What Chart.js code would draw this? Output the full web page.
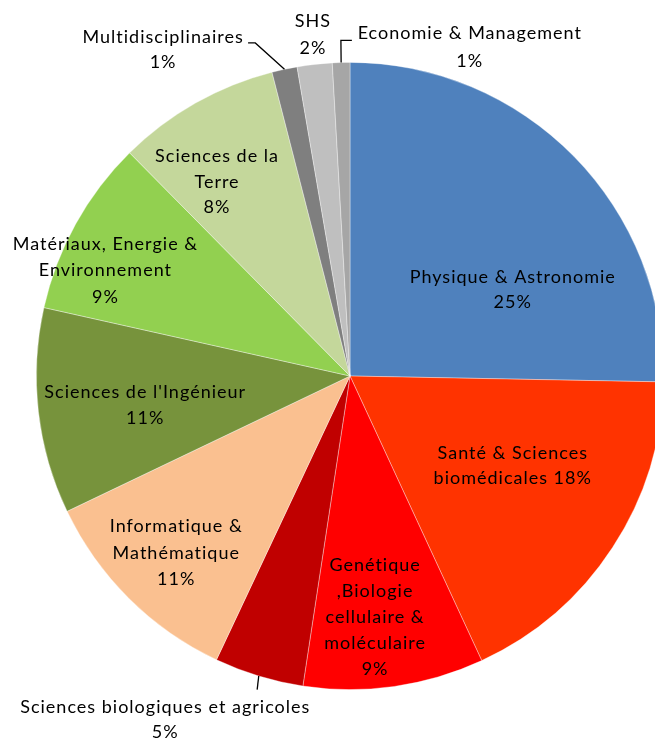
<!DOCTYPE html>
<html>
<head>
<meta charset="utf-8">
<script src="https://cdn.jsdelivr.net/npm/chart.js@4.4.1/dist/chart.umd.min.js"></script>
<style>
  html, body { margin: 0; padding: 0; background: #fff; overflow: hidden; }
  #wrap { width: 700px; height: 740px; }
</style>
</head>
<body>
<div id="wrap"><canvas id="c" width="700" height="740"></canvas></div>
<script>
// ---- data ----
const categories = [
  "Physique & Astronomie",
  "Santé & Sciences biomédicales",
  "Genétique ,Biologie cellulaire & moléculaire",
  "Sciences biologiques et agricoles",
  "Informatique & Mathématique",
  "Sciences de l'Ingénieur",
  "Matériaux, Energie & Environnement",
  "Sciences de la Terre",
  "Multidisciplinaires",
  "SHS",
  "Economie & Management"
];
const shares = [25.3, 17.8, 9.3, 4.6, 10.9, 10.6, 9.1, 8.4, 1.3, 1.8, 0.9];
const colors = ["#4F81BD", "#FF3300", "#FF0000", "#C00000", "#FAC090", "#77933C",
                "#92D050", "#C4D79B", "#7F7F7F", "#BFBFBF", "#A6A6A6"];
// label text lines ({p} = percentage)
const labelLines = [
  ["Physique & Astronomie", "{p}"],
  ["Santé & Sciences", "biomédicales {p}"],
  ["Genétique", ",Biologie", "cellulaire &", "moléculaire", "{p}"],
  ["Sciences biologiques et agricoles", "{p}"],
  ["Informatique &", "Mathématique", "{p}"],
  ["Sciences de l'Ingénieur", "{p}"],
  ["Matériaux, Energie &", "Environnement", "{p}"],
  ["Sciences de la", "Terre", "{p}"],
  ["Multidisciplinaires", "{p}"],
  ["SHS", "{p}"],
  ["Economie & Management", "{p}"]
];

// ---- layout (relative to pie centre, in units of radius) ----
const labelPos = [
  [0.519, -0.275], [0.519, 0.285], [0.080, 0.769], [-0.589, 1.097],
  [-0.554, 0.565], [-0.653, 0.092], [-0.780, -0.336], [-0.424, -0.619],
  [-0.596, -1.040], [-0.118, -1.089], [0.382, -1.048]
];
const lineHeight = [25, 25, 26, 25, 26.5, 26, 26.5, 25.5, 25, 27, 28];
// leader lines: from rim at slice mid-angle through elbow points (relative coords)
const leaders = {
  3: [[-0.296, 1.0]],
  8: [[-0.302, -1.062], [-0.325, -1.062]],
  10: [[-0.029, -1.07], [0.006, -1.07]]
};

const total = shares.reduce((a, b) => a + b, 0);

const labelPlugin = {
  id: 'sliceLabels',
  afterDatasetsDraw(chart) {
    const ctx = chart.ctx;
    const meta = chart.getDatasetMeta(0);
    ctx.save();
    ctx.font = '18px Lato, "Open Sans", sans-serif';
    ctx.fillStyle = '#000';
    ctx.textAlign = 'center';
    ctx.textBaseline = 'middle';
    meta.data.forEach((arc, i) => {
      const cx = arc.x, cy = arc.y, R = arc.outerRadius;
      // leader
      if (leaders[i]) {
        const mid = (arc.startAngle + arc.endAngle) / 2;
        ctx.beginPath();
        ctx.strokeStyle = '#000';
        ctx.lineWidth = 1.3;
        ctx.moveTo(cx + R * Math.cos(mid), cy + R * Math.sin(mid));
        leaders[i].forEach(p => ctx.lineTo(cx + p[0] * R, cy + p[1] * R));
        ctx.stroke();
      }
      const pct = Math.round(shares[i] / total * 100) + '%';
      const lines = labelLines[i].map(s => s.replace('{p}', pct));
      const lh = lineHeight[i];
      const x = cx + labelPos[i][0] * R;
      const y0 = cy + labelPos[i][1] * R - (lines.length - 1) * lh / 2;
      ctx.letterSpacing = '1px';
      lines.forEach((s, k) => ctx.fillText(s, x, y0 + k * lh));
    });
    ctx.restore();
  }
};

new Chart(document.getElementById('c'), {
  type: 'pie',
  data: {
    labels: categories,
    datasets: [{
      data: shares,
      backgroundColor: colors,
      borderColor: 'rgba(255,255,255,0.45)',
      borderWidth: 0.8
    }]
  },
  options: {
    responsive: false,
    animation: false,
    layout: { padding: { left: 36, right: 36, top: 62, bottom: 50 } },
    plugins: { legend: { display: false }, tooltip: { enabled: false } }
  },
  plugins: [labelPlugin]
});
</script>
</body>
</html>
